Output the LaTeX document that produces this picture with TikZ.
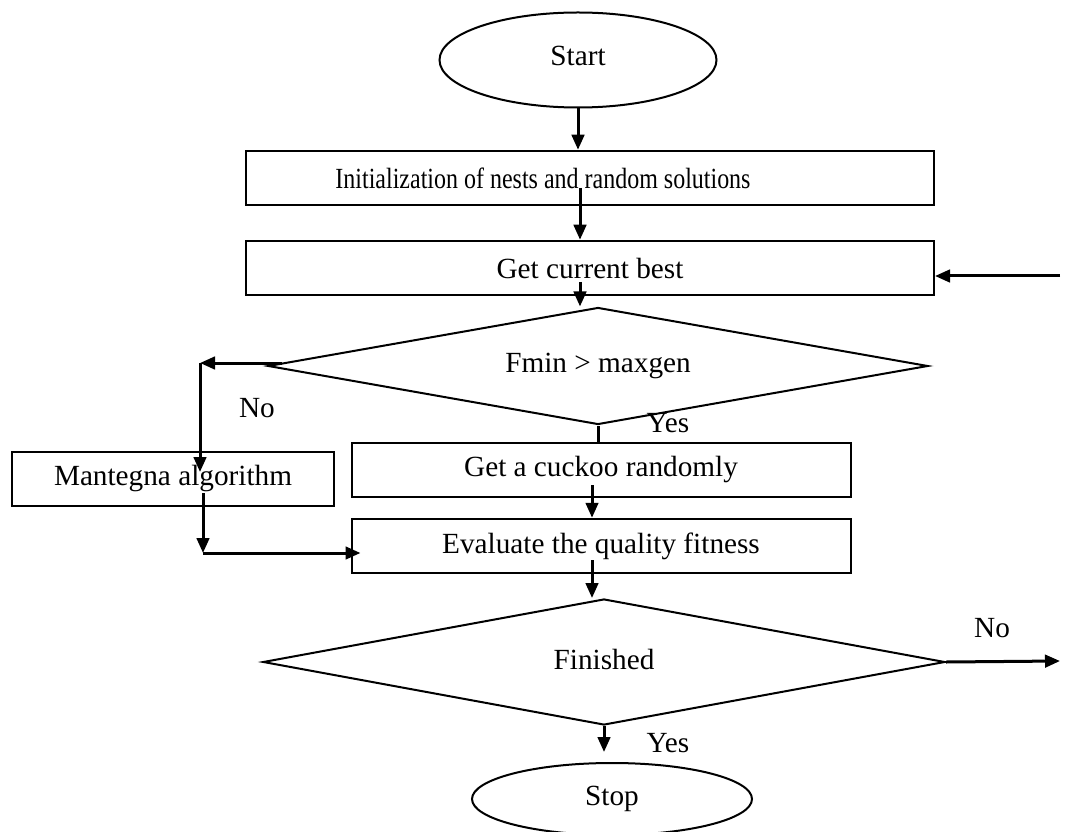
\documentclass[tikz,border=0pt]{standalone}
\usepackage{graphicx}
\usepackage{fontspec}
\setmainfont{Liberation Serif}
\usetikzlibrary{shapes,arrows.meta,positioning,calc}

\newcommand{\narrow}[1]{\scalebox{0.82}[1]{#1}}

\begin{document}
\begin{tikzpicture}[
    x=0.4pt, y=-0.4pt,
    every node/.style={font=\fontsize{11.7}{14}\selectfont},
    box/.style={draw, line width=0.8pt, rectangle, inner sep=0pt, minimum height=21.8pt},
    oval/.style={draw, line width=0.8pt, ellipse, inner sep=0pt},
    cond/.style={draw, line width=0.8pt, diamond, inner sep=0pt},
    arrow/.style={-{Triangle[length=6pt,width=5pt]}, line width=1.2pt},
    link/.style={line width=1.2pt}
]
    \useasboundingbox (0,0) rectangle (1065,832);

    \node[oval, minimum width=110.8pt, minimum height=38pt] (S) at (578,60) {\raisebox{3pt}{Start}};
    \node[box, minimum width=275.2pt] (I) at (590,178) {\narrow{Initialization of nests and random solutions}\hspace*{37.6pt}};
    \node[box, minimum width=275.2pt] (B) at (590,268) {Get current best};
    \node[cond, aspect=5.64, minimum width=264pt, minimum height=46.8pt] (F) at (598,366) {\raisebox{2pt}{Fmin > maxgen}};
    \node[box, minimum width=128.8pt] (M) at (173,479) {Mantegna algorithm};
    \node[box, minimum width=199.6pt] (C) at (601,470) {Get a cuckoo randomly};
    \node[box, minimum width=199.6pt] (E) at (601,546) {Evaluate the quality fitness};
    \node[cond, aspect=5.41, minimum width=272.8pt, minimum height=50.4pt] (D) at (604,662) {\raisebox{2pt}{Finished}};
    \node[oval, minimum width=112pt, minimum height=28.8pt] (T) at (612,799) {Stop};

    % answers
    \node (n1) at (257,408) {No};
    \node (y1) at (668,423) {Yes};
    \node (n2) at (992,628) {No};
    \node (y2) at (668,743) {Yes};

    % free ends and bends
    \coordinate (i1) at (580,188);
    \coordinate (b1) at (580,282);
    \coordinate (back) at (1060,276);
    \coordinate (f1) at (282,363);
    \coordinate (nL) at (200,363);
    \coordinate (m1) at (203,493);
    \coordinate (mB) at (203,553);
    \coordinate (c1) at (592,485);
    \coordinate (e1) at (592,560);
    \coordinate (out) at (1060,661);

    \draw[arrow] (S.south) -- (S.south |- I.north);
    \draw[arrow] (i1) -- (i1 |- B.north);
    \draw[arrow] (b1) -- (b1 |- F.north);
    \draw[arrow] (back) -- (back -| B.east);

    \draw[arrow] (f1) -- (nL);
    \draw[arrow] (nL) -- (200,472);
    \draw[arrow] (m1) -- (mB);
    \draw[arrow] (mB) -- ([xshift=4pt]mB -| E.west);

    \draw[link] (F.south) -- (F.south |- C.north);
    \draw[arrow] (c1) -- (c1 |- E.north);
    \draw[arrow] (e1) -- (e1 |- D.north);

    \draw[arrow] (D.east) -- (out);
    \draw[arrow] (D.south) -- ([yshift=4pt]D.south |- T.north);

\end{tikzpicture}
\end{document}
